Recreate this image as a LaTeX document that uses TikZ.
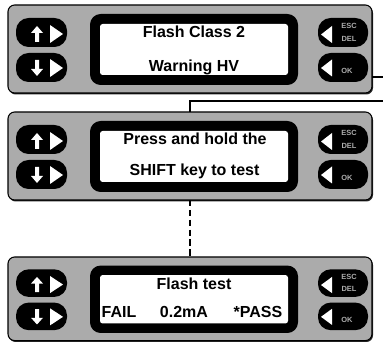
\documentclass[tikz,border=0pt]{standalone}
\usepackage{fontspec}
\setmainfont{Liberation Sans}
\usetikzlibrary{positioning}

\definecolor{panelgray}{gray}{0.67}

\tikzset{
  lcd/.style={font=\fontsize{12}{14}\selectfont\bfseries, inner sep=0pt, anchor=base},
  key/.style={fill=black, rounded corners=9.5pt},
  keytxt/.style={font=\fontsize{5.6}{6}\selectfont\bfseries, text=gray!65, inner sep=0pt},
  link/.style={line width=1pt},
  unit/.pic={
    % casing
    \fill[black!85, rounded corners=5pt] (1,1.5) rectangle (365,89.5);
    \filldraw[fill=panelgray, draw=black, line width=0.8pt, rounded corners=5pt] (0,0) rectangle (364,88);
    % display
    \fill[black, rounded corners=8pt] (82,9) rectangle (290,80);
    \fill[white, rounded corners=2pt] (92,19) rectangle (280,70);
    % arrow keys
    \fill[key] (8,13) rectangle (59,42);
    \fill[key] (8,48) rectangle (59,77);
    \fill[white] (29,21) -- (35,28) -- (31,28) -- (31,37) -- (27,37) -- (27,28) -- (23,28) -- cycle;
    \fill[white] (29,71) -- (35,64) -- (31,64) -- (31,55) -- (27,55) -- (27,64) -- (23,64) -- cycle;
    \fill[white] (42,20) -- (55,29) -- (42,38) -- cycle;
    \fill[white] (42,54) -- (55,63) -- (42,72) -- cycle;
    % esc and ok keys
    \fill[key] (310,13) rectangle (360,42);
    \fill[key] (310,48) rectangle (360,77);
    \fill[white] (313,29.5) -- (324,21) -- (324,38) -- cycle;
    \fill[white] (313,63) -- (324,54.5) -- (324,71.5) -- cycle;
    \node[keytxt] (-esc) at (341,21) {ESC};
    \node[keytxt] (-del) at (341,34) {DEL};
    \node[keytxt] (-ok) at (339,66) {OK};
    % link points
    \coordinate (-top) at (182,0);
    \coordinate (-bot) at (182,88);
    \coordinate (-rt) at (364,72);
  }
}

\begin{document}
\begin{tikzpicture}[x=0.75pt, y=-0.75pt]
  \useasboundingbox (0,0) rectangle (383,342);

  \pic (u1) at (8,5) {unit};
  \pic (u2) at (8,112) {unit};
  \pic[yscale=0.95] (u3) at (8,257) {unit};

  \node[lcd] (l1a) at (194,38) {Flash Class 2};
  \node[lcd] (l1b) at (194,72) {Warning HV};
  \node[lcd] (l2a) at (195,145) {Press and hold the};
  \node[lcd] (l2b) at (194.5,176) {SHIFT key to test};
  \node[lcd] (l3a) at (194,290) {Flash test};
  \node[lcd] (fail) at (119,318) {FAIL};
  \node[lcd] (curr) at (184,318) {0.2mA};
  \node[lcd] (pass) at (258,318) {*PASS};

  \coordinate (out) at (383,77);
  \coordinate (in) at (383,101);
  \draw[link] (u1-rt) -- (out);
  \draw[link] (in) -| (u2-top);
  \draw[link, dash pattern=on 4.8pt off 2.6pt] (u2-bot) -- (u3-top);
\end{tikzpicture}
\end{document}
